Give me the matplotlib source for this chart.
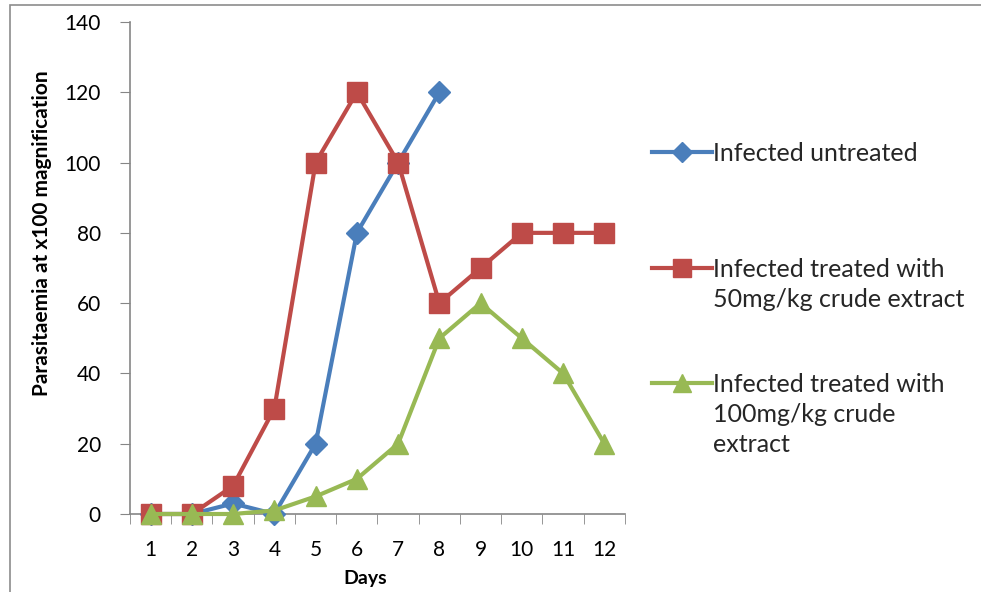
import matplotlib.pyplot as plt
from matplotlib.lines import Line2D
from matplotlib.patches import Rectangle

# data
days = list(range(1, 13))
untreated = [0, 0, 3, 0, 20, 80, 100, 120]
treated_50 = [0, 0, 8, 30, 100, 120, 100, 60, 70, 80, 80, 80]
treated_100 = [0, 0, 0, 1, 5, 10, 20, 50, 60, 50, 40, 20]

labels = ["Infected untreated",
          "Infected treated with\n50mg/kg crude extract",
          "Infected treated with\n100mg/kg crude\nextract"]
colors = ["#4A7EBB", "#BE4B48", "#98B954"]
markers = ["D", "s", "^"]
msizes = [11, 14, 14]

plt.rcParams["font.family"] = ["Lato", "DejaVu Sans"]

W, H = 981, 592
fig = plt.figure(figsize=(W / 100, H / 100), dpi=100)
ax = fig.add_axes([130 / W, 78 / H, 495 / W, 492 / H])

series = [untreated, treated_50, treated_100]
for vals, c, m, ms in zip(series, colors, markers, msizes):
    ax.plot(days[:len(vals)], vals, color=c, marker=m, markersize=ms, lw=3,
            markeredgecolor=c, clip_on=False, zorder=3)

ax.set_xlim(0.5, 12.5)
ax.set_ylim(0, 140)
ax.set_yticks(range(0, 141, 20))
ax.set_xticks(days)
ax.set_xticks([d + 0.5 for d in [0] + days], minor=True)
ax.tick_params(axis="x", which="major", length=0, labelsize=15, pad=19)
ax.tick_params(axis="x", which="minor", length=7, color="#868686", direction="out")
ax.tick_params(axis="y", length=7, color="#868686", labelsize=15, pad=14)
for s in ["top", "right"]:
    ax.spines[s].set_visible(False)
for s in ["left", "bottom"]:
    ax.spines[s].set_color("#868686")
    ax.spines[s].set_linewidth(1.2)

ax.set_xlabel("Days", fontsize=14, fontweight="bold")
ax.xaxis.set_label_coords((365 - 130) / 495, -0.113)
ax.set_ylabel("Parasitaemia at x100 magnification", fontsize=15, fontweight="bold")
ax.yaxis.set_label_coords(-0.158, 0.57)

# manual legend to the right of the plot
first_line_y = [152, 268, 383]
for lab, c, m, ms, yy in zip(labels, colors, markers, msizes, first_line_y):
    fy = 1 - yy / H
    fig.add_artist(Line2D([652 / W, 712 / W], [fy, fy], color=c, lw=3,
                          transform=fig.transFigure))
    fig.add_artist(Line2D([682 / W], [fy], color=c, marker=m, markersize=ms * 0.9,
                          transform=fig.transFigure))
    fig.text(713 / W, fy + 10 / H, lab, fontsize=18, va="top", ha="left",
             linespacing=1.38, color="#262626")

fig.add_artist(Rectangle((10 / W, -0.01), 1.0, 1 - 5 / H + 0.01, fill=False,
                         edgecolor="#8c8c8c", lw=1.2, transform=fig.transFigure))

fig.savefig("out.png", dpi=100)
